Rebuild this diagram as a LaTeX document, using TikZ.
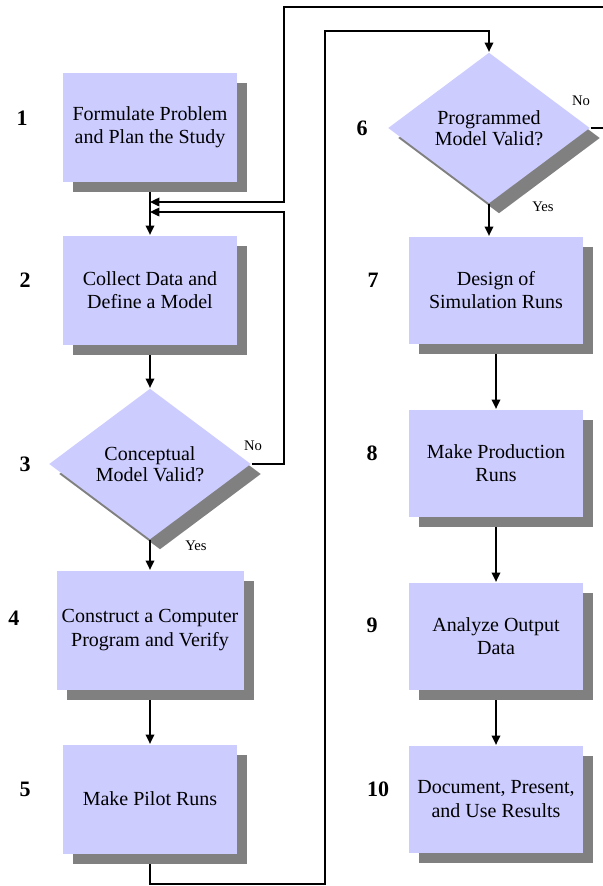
\documentclass[tikz,border=0pt]{standalone}
\usepackage{fontspec}
\setmainfont{Liberation Serif}
\usepackage{xcolor}
\usepackage{tikz}
\usetikzlibrary{shapes.geometric, shadows, arrows.meta}

\definecolor{boxblue}{HTML}{CCCCFF}
\definecolor{shade}{HTML}{808080}

\begin{document}
\begin{tikzpicture}[x=0.75pt, y=-0.75pt, line width=1pt,
    >={Triangle[length=7pt,width=6.5pt]},
    shadowed/.style={drop shadow={shadow xshift=7.5pt, shadow yshift=-7.5pt,
        fill=shade, opacity=1}},
    box/.style={rectangle, fill=boxblue, shadowed, align=center, inner sep=2pt,
        minimum width=130.5pt, minimum height=81.75pt,
        font=\fontsize{15}{17.5}\selectfont},
    decision/.style={diamond, fill=boxblue, shadowed, align=center, inner sep=0pt,
        aspect=1.34, minimum width=151.5pt, minimum height=113.25pt,
        font=\fontsize{15}{16}\selectfont},
    num/.style={font=\fontsize{16.5}{18}\selectfont\bfseries},
    yesno/.style={font=\fontsize{11}{12}\selectfont},
    from box/.style={shorten <=7.5pt}]
    \useasboundingbox (0,0) rectangle (603,886);

    % Steps, left column
    \node[box]      (b1) at (150,127) {Formulate Problem\\and Plan the Study};
    \node[box]      (b2) at (150,290) {Collect Data and\\Define a Model};
    \node[decision] (d3) at (150,464) {Conceptual\\Model Valid?};
    \node[box, minimum width=140.25pt, minimum height=89.25pt]
                    (b4) at (150,630) {Construct a Computer\\Program and Verify};
    \node[box]      (b5) at (150,799) {Make Pilot Runs};

    % Steps, right column
    \node[decision] (d6) at (489,128) {Programmed\\Model Valid?};
    \node[box, minimum height=80.25pt] (b7)  at (496,290) {Design of\\Simulation Runs};
    \node[box, minimum height=80.25pt] (b8)  at (496,463) {Make Production\\Runs};
    \node[box, minimum height=80.25pt] (b9)  at (496,636) {Analyze Output\\Data};
    \node[box, minimum height=80.25pt] (b10) at (496,799) {Document, Present,\\and Use Results};

    % Step numbers
    \node[num] (n1)  at (22,118)  {1};
    \node[num] (n2)  at (25,280)  {2};
    \node[num] (n3)  at (25,464)  {3};
    \node[num] (n4)  at (14,618)  {4};
    \node[num] (n5)  at (25,789)  {5};
    \node[num] (n6)  at (362,128) {6};
    \node[num] (n7)  at (373,280) {7};
    \node[num] (n8)  at (372,453) {8};
    \node[num] (n9)  at (372,625) {9};
    \node[num] (n10) at (378,789) {10};

    % Decision labels
    \node[yesno] (no3)  at (253,446) {No};
    \node[yesno] (yes3) at (196,546) {Yes};
    \node[yesno] (no6)  at (581,101) {No};
    \node[yesno] (yes6) at (543,207) {Yes};

    % Merge points above step 2
    \coordinate (m1) at (150,202);
    \coordinate (m2) at (150,212);

    % Flow
    \draw[->, from box] (b1.south) -- (b2.north);
    \draw[->, from box] (b2.south) -- (d3.north);
    \draw[->]           (d3.south) -- (b4.north);
    \draw[->, from box] (b4.south) -- (b5.north);
    \draw[->, from box] (b5.south) |- (325,884) -- (325,31) -| (d6.north);
    \draw[->]           (d6.south) -- (d6.south |- b7.north);
    \draw[->, from box] (b7.south) -- (b8.north);
    \draw[->, from box] (b8.south) -- (b9.north);
    \draw[->, from box] (b9.south) -- (b10.north);

    % Feedback loops
    \draw[->] (d3.east) -| (284,212) -- (m2);
    \draw[->] (d6.east) -| (606,7) -| (284,202) -- (m1);
\end{tikzpicture}
\end{document}
